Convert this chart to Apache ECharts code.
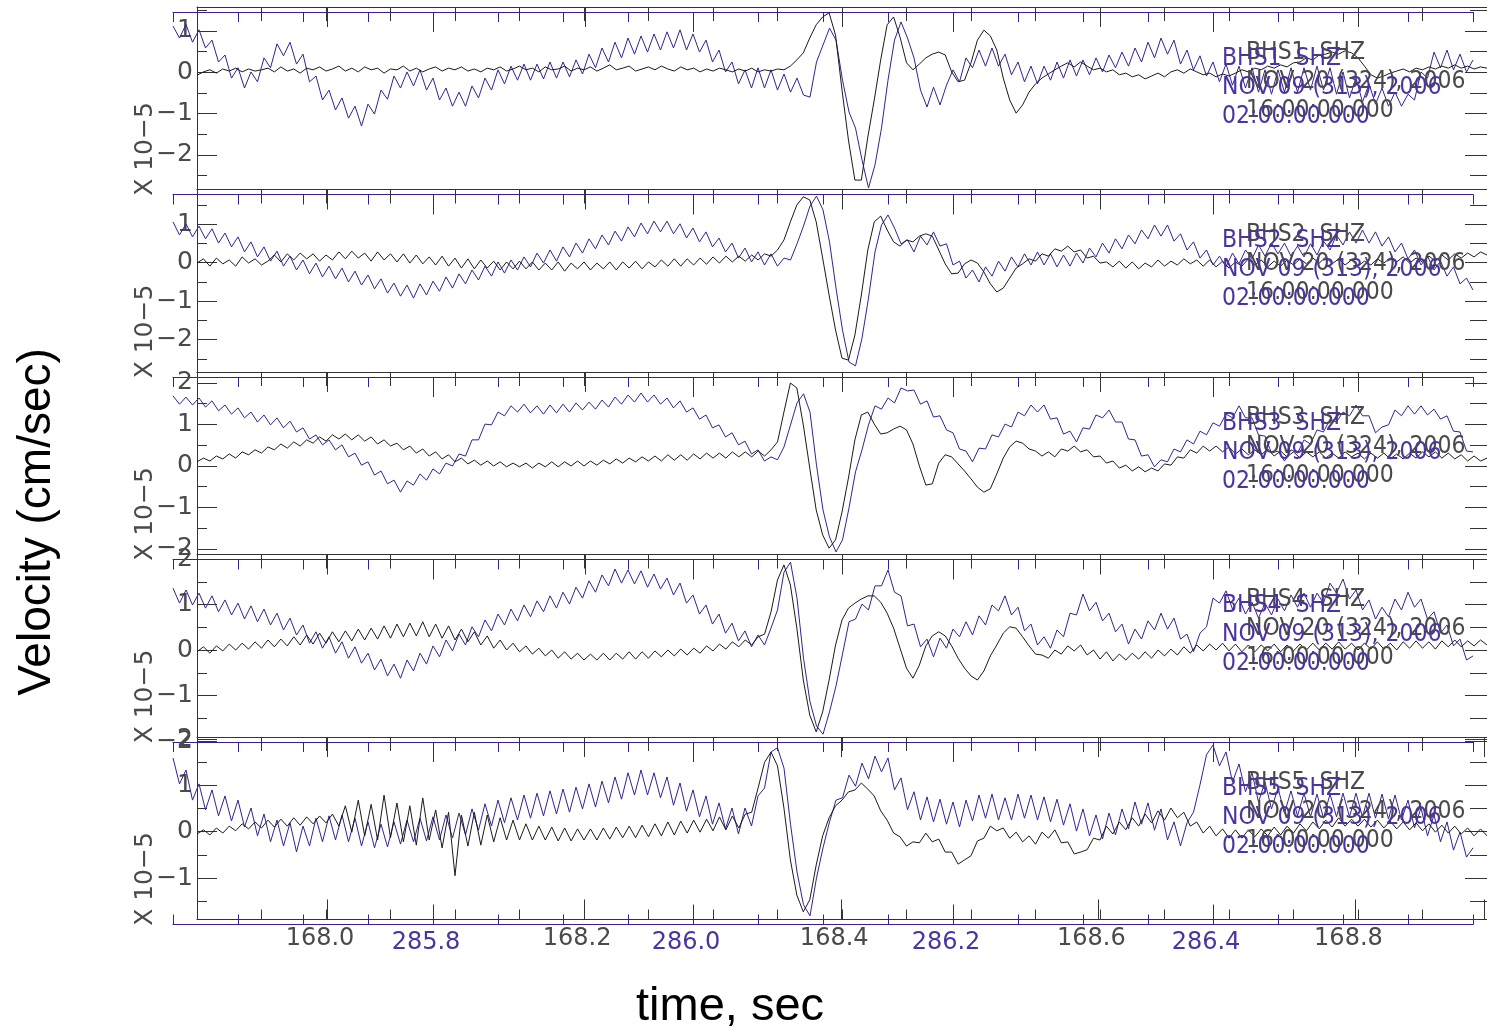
<!DOCTYPE html>
<html><head><meta charset="utf-8">
<script src="https://cdn.jsdelivr.net/npm/echarts@6/dist/echarts.min.js"></script>
<style>html,body{margin:0;padding:0;background:#fff}#c{width:1487px;height:1031px}</style>
</head><body><div id="c"></div>
<script>
// ---- time bases (seconds) ----
const blackStartTime = 167.9, blackEndTime = 168.9;
const purpleStartTime = 285.6, purpleEndTime = 286.6;
const sampleStep = 0.005;

// ---- traces (units of 1e-5 cm/sec) ----
const blackP1 = [-0.07,0.01,0.06,-0.02,0.08,0.03,0.1,0.01,0.08,0.03,0.06,
0.1,0.01,0.13,0.03,0.08,-0.02,0.1,0.06,0.13,0.03,
0.08,0.15,0.03,0.1,0.01,0.13,0.06,0.1,-0.02,0.08,
0.06,0.15,0.03,0.1,0.01,0.08,0.13,0.03,0.1,0.06,
0.13,0.03,0.08,0.01,0.1,0.06,0.13,0.03,0.08,0.15,
0.06,0.1,0.01,0.13,0.06,0.08,0.15,0.03,0.1,0.06,
0.13,0.03,0.1,0.18,0.06,0.1,0.15,0.03,0.08,0.13,
0.06,0.15,0.08,0.03,0.13,0.06,0.1,0.01,0.08,0.03,
0.1,0.06,0.01,0.08,0.03,0.1,0.01,0.06,0.03,0.08,
0.06,0.15,0.3,0.47,0.83,1.15,1.34,1.44,0.9,-0.43,
-1.64,-2.61,-2.61,-1.57,-0.67,0.3,1.15,1.34,0.85,0.23,
0.06,0.2,0.35,0.44,0.49,0.42,0.01,-0.23,-0.19,0.23,
0.78,1.02,0.88,0.54,-0.14,-0.67,-0.99,-0.79,-0.48,-0.28,
-0.14,-0.04,0.06,0.15,0.23,0.13,0.25,0.15,0.06,0.1,
0.01,0.06,-0.06,-0.02,-0.11,-0.06,-0.16,-0.09,-0.02,-0.11,
0.01,0.06,-0.02,0.08,0.01,-0.06,-0.02,-0.11,-0.04,-0.09,
-0.02,0.06,0.01,0.1,0.06,0.15,0.1,0.18,0.13,0.23,
0.25,0.35,0.3,0.42,0.44,0.49,0.44,0.52,0.47,0.35,
0.15,-0.06,-0.14,-0.09,-0.02,0.03,0.08,0.01,0.1,0.06,
0.13,0.08,0.15,0.1,0.18,0.1,0.15,0.08,0.13,0.1];
const purpleP1 = [1.24,0.95,1.28,0.85,1.15,0.71,0.9,0.37,0.54,-0.02,
0.23,-0.26,0.13,-0.11,0.47,0.23,0.81,0.52,0.85,0.32,
0.56,-0.11,0.03,-0.55,-0.31,-0.79,-0.5,-0.99,-0.7,-1.18,
-0.65,-0.89,-0.31,-0.53,0.03,-0.26,0.13,-0.21,0.18,-0.31,
-0.02,-0.55,-0.26,-0.7,-0.36,-0.7,-0.21,-0.5,-0.02,-0.31,
0.18,-0.16,0.27,-0.07,0.32,-0.07,0.32,-0.04,0.37,-0.02,
0.37,0.01,0.42,0.08,0.56,0.23,0.71,0.37,0.85,0.47,
0.95,0.56,1.0,0.61,1.05,0.66,1.1,0.71,1.15,0.66,
1.05,0.61,0.9,0.37,0.66,0.13,0.37,-0.16,0.18,-0.26,
0.23,-0.26,0.18,-0.31,0.08,-0.36,-0.02,-0.43,-0.48,0.37,
0.78,1.19,0.9,-0.07,-0.84,-1.23,-2.0,-2.68,-2.12,-1.23,
-0.07,0.9,1.34,0.95,0.47,-0.31,-0.72,-0.24,-0.67,-0.19,
0.18,-0.11,0.47,0.23,0.66,0.27,0.71,0.27,0.56,0.06,
0.37,-0.11,0.27,-0.16,0.27,-0.07,0.37,-0.02,0.42,0.03,
0.42,0.06,0.47,0.13,0.54,0.23,0.61,0.27,0.71,0.37,
0.85,0.47,0.95,0.56,0.9,0.32,0.66,0.18,0.52,0.03,
0.37,-0.11,0.32,-0.19,0.27,-0.26,0.23,-0.36,0.18,-0.41,
0.18,-0.36,0.23,-0.36,0.23,-0.31,0.27,-0.31,0.23,-0.41,
0.13,-0.5,-0.02,-0.6,-0.16,-0.65,-0.26,-0.7,-0.36,-0.7,
-0.41,-0.55,0.13,-0.02,0.61,0.23,0.66,0.18,0.56,0.13,
0.42];
const blackP2 = [-0.01,0.1,-0.09,0.12,-0.03,0.07,-0.09,0.15,-0.01,0.1,-0.06,
0.04,0.2,0.02,0.23,0.07,0.25,0.1,0.23,0.04,0.2,
0.07,0.28,0.1,0.3,0.12,0.25,0.04,0.28,0.07,0.23,
0.02,0.23,-0.01,0.2,-0.03,0.15,-0.06,0.17,-0.09,0.12,
-0.14,0.1,-0.16,0.07,-0.14,0.04,-0.19,0.02,-0.16,0.04,
-0.16,0.02,-0.19,-0.01,-0.19,0.02,-0.22,-0.01,-0.16,0.02,
-0.19,-0.01,-0.16,0.02,-0.19,0.02,-0.14,0.04,-0.16,0.02,
-0.11,0.07,-0.09,0.1,-0.09,0.1,-0.06,0.12,-0.04,0.15,
-0.01,0.17,0.02,0.17,0.04,0.2,0.07,0.23,0.17,
0.33,0.59,1.06,1.5,1.71,1.63,1.06,0.12,-0.84,-1.75,
-2.48,-2.53,-1.88,-0.84,0.33,1.06,1.21,0.85,0.54,0.43,
0.59,0.54,0.69,0.75,0.69,0.33,-0.03,-0.29,-0.27,-0.03,
0.07,-0.01,-0.24,-0.55,-0.76,-0.66,-0.4,-0.14,-0.03,0.1,
0.04,0.23,0.17,0.36,0.3,0.43,0.28,0.33,0.12,0.17,-0.01,
0.02,-0.11,0.04,-0.14,0.02,-0.16,-0.01,-0.11,0.07,-0.09,0.04,-0.06,0.1,-0.03,0.07,
-0.09,0.07,-0.11,0.04,-0.14,0.02,-0.09,0.1,-0.06,0.07,-0.11,0.04,-0.09,0.07,-0.06,
0.1,-0.03,0.12,-0.01,0.15,-0.03,0.1,-0.06,0.07,-0.09,0.04,-0.06,0.1,-0.01,0.12,
0.02,0.15,-0.01,0.12,0.02,0.17,0.04,0.2,0.07,0.23,0.12,0.25,0.15,0.28,0.2];
const purpleP2 = [1.19,0.85,1.14,0.8,1.08,0.75,1.01,0.64,0.9,0.54,
0.8,0.41,0.67,0.28,0.54,0.17,0.43,0.04,0.3,-0.06,
0.2,-0.16,0.12,-0.24,0.04,-0.29,-0.01,-0.37,-0.09,-0.45,
-0.19,-0.55,-0.29,-0.66,-0.4,-0.74,-0.45,-0.79,-0.42,-0.71,
-0.35,-0.61,-0.24,-0.53,-0.16,-0.42,-0.06,-0.32,0.04,-0.22,
0.15,-0.14,0.2,-0.06,0.28,0.02,0.38,0.12,0.46,0.17,
0.54,0.28,0.64,0.38,0.75,0.49,0.85,0.59,0.95,0.69,
1.06,0.8,1.16,0.88,1.21,0.93,1.21,0.88,1.14,0.77,
1.03,0.67,0.93,0.54,0.77,0.41,0.64,0.25,0.51,0.15,
0.41,0.07,0.36,0.04,0.25,0.2,0.62,1.08,1.6,1.86,
1.5,0.67,-0.53,-1.62,-2.45,-2.55,-1.83,-0.79,0.41,1.11,
1.37,1.03,0.62,0.72,0.41,0.82,0.59,0.93,0.56,0.62,
0.07,0.17,-0.27,-0.06,-0.37,0.02,-0.22,0.17,-0.09,0.28,
0.02,0.36,0.07,0.41,0.07,0.36,0.02,0.33,0.04,0.38,
0.12,0.51,0.28,0.64,0.38,0.75,0.49,0.85,0.62,0.98,
0.75,1.11,0.82,1.11,0.69,0.88,0.46,0.67,0.25,0.46,
0.07,0.3,0.02,0.38,0.1,0.46,0.23,0.59,0.3,0.64,
0.36,0.64,0.3,0.56,0.28,0.62,0.33,0.69,0.46,0.85,
0.59,0.93,0.64,0.98,0.64,0.93,0.56,0.8,0.41,0.64,
0.23,0.46,0.07,0.3,-0.06,0.17,-0.22,0.02,-0.42,-0.27,
-0.58];
const blackP3 = [0.1,0.19,0.12,0.24,0.17,0.29,0.19,0.34,0.27,0.39,
0.31,0.46,0.39,0.53,0.43,0.58,0.48,0.63,0.55,0.7,
0.6,0.75,0.65,0.77,0.63,0.75,0.6,0.7,0.53,0.63,
0.48,0.55,0.39,0.48,0.31,0.41,0.24,0.34,0.17,0.27,
0.1,0.19,0.05,0.14,0.02,0.12,0,0.1,-0.02,0.07,
-0.02,0.07,-0.05,0.07,-0.02,0.1,-0.02,0.1,0,0.12,
0,0.12,0.02,0.14,0.05,0.17,0.07,0.19,0.1,0.22,
0.12,0.24,0.12,0.27,0.14,0.27,0.14,0.29,0.17,0.31,
0.19,0.31,0.19,0.34,0.22,0.34,0.22,0.36,0.24,0.39,
0.58,1.3,2.0,1.88,0.99,-0.05,-1.06,-1.66,-1.98,-1.78,
-1.11,-0.29,0.63,1.23,1.3,1.01,0.77,0.8,0.89,0.96,
0.87,0.53,0,-0.46,-0.43,0.07,0.27,0.22,0.05,-0.12,
-0.31,-0.51,-0.63,-0.55,-0.19,0.19,0.46,0.6,0.55,0.41,
0.36,0.24,0.34,0.22,0.41,0.36,0.48,0.34,0.39,0.22,
0.24,0.07,0.12,-0.05,0.02,-0.12,-0.02,-0.14,-0.05,-0.12,
0.05,0.02,0.22,0.19,0.39,0.31,0.48,0.36,0.48,0.34,
0.46,0.29,0.41,0.27,0.39,0.27,0.41,0.24,0.36,0.22,
0.34,0.19,0.34,0.22,0.34,0.19,0.31,0.19,0.34,0.22,
0.31,0.17,0.31,0.19,0.31,0.17,0.29,0.17,0.31,0.19,
0.34,0.22,0.34,0.19,0.31,0.17,0.27,0.12,0.24,0.12,
0.19];
const purpleP3 = [1.81,1.61,1.78,1.59,1.76,1.54,1.69,1.45,1.59,1.37,
1.52,1.28,1.42,1.18,1.35,1.11,1.28,1.04,1.2,0.94,
1.04,0.77,0.87,0.63,0.75,0.51,0.63,0.34,0.43,0.14,
0.22,-0.1,0,-0.31,-0.22,-0.51,-0.24,-0.34,-0.07,-0.22,
0.05,-0.07,0.19,0.12,0.41,0.36,0.75,0.75,1.13,1.11,
1.42,1.33,1.57,1.42,1.61,1.4,1.57,1.37,1.59,1.4,
1.61,1.42,1.64,1.47,1.66,1.49,1.71,1.54,1.78,1.61,
1.83,1.66,1.88,1.66,1.83,1.61,1.76,1.52,1.69,1.42,
1.52,1.25,1.35,1.04,1.11,0.82,0.92,0.63,0.72,0.41,
0.51,0.24,0.34,0.27,0.58,1.11,1.64,1.86,1.42,0.14,
-0.94,-1.59,-1.95,-1.66,-0.89,-0.02,0.51,1.11,1.57,1.49,
1.76,1.64,2.0,1.93,1.95,1.61,1.69,1.3,1.33,0.99,
0.92,0.53,0.48,0.22,0.55,0.53,0.87,0.82,1.13,1.06,
1.42,1.33,1.59,1.42,1.59,1.25,1.28,0.89,0.96,0.7,
1.04,1.01,1.35,1.28,1.47,1.18,1.18,0.77,0.75,0.36,
0.39,0.1,0.27,0.22,0.53,0.46,0.75,0.65,0.96,0.87,
1.16,1.08,1.37,1.28,1.57,1.28,1.28,0.87,0.84,0.43,
0.48,0.24,0.51,0.43,0.75,0.65,0.99,0.94,1.25,1.18,
1.42,1.33,1.59,1.33,1.33,0.92,1.06,1.11,1.47,1.33,
1.57,1.37,1.57,1.35,1.49,1.25,1.33,0.96,0.94,0.48,
0.46];
const blackP4 = [-0.04,0.07,-0.07,0.09,-0.02,0.13,0,0.15,0.02,0.18,
0.04,0.22,0.07,0.24,0.09,0.29,0.11,0.33,0.13,0.37,
0.15,0.4,0.18,0.42,0.2,0.46,0.22,0.48,0.24,0.53,
0.26,0.57,0.29,0.59,0.31,0.62,0.29,0.57,0.26,0.53,
0.22,0.46,0.18,0.4,0.11,0.31,0.04,0.22,0,0.15,
-0.04,0.09,-0.09,0.04,-0.13,0,-0.18,-0.04,-0.2,-0.07,
-0.22,-0.09,-0.22,-0.07,-0.22,-0.07,-0.2,-0.04,-0.2,-0.04,
-0.18,-0.02,-0.15,0,-0.13,0.02,-0.11,0.04,-0.07,0.09,
-0.02,0.13,0.02,0.18,0.07,0.22,0.11,0.29,0.35,0.84,
1.54,1.87,1.43,0.48,-0.66,-1.43,-1.8,-1.36,-0.66,0.11,
0.66,0.92,1.03,1.12,1.19,1.19,1.05,0.81,0.48,0.04,
-0.4,-0.62,-0.33,0.09,0.31,0.4,0.31,0.09,-0.18,-0.4,
-0.57,-0.66,-0.46,-0.13,0.11,0.37,0.51,0.48,0.29,0.09,
-0.09,-0.11,-0.18,0,-0.09,0.09,-0.02,0.11,-0.11,0,
-0.2,-0.04,-0.24,-0.09,-0.22,-0.07,-0.2,-0.04,-0.18,0,
-0.13,0.02,-0.11,0.07,-0.07,0.11,-0.02,0.13,0,0.15,
-0.02,0.13,-0.04,0.11,-0.04,0.11,-0.02,0.13,-0.04,0.11,
-0.02,0.13,0,0.15,0,0.15,0.02,0.18,0.02,0.15,
0,0.15,0.02,0.18,0.02,0.15,0,0.18,0.04,0.2,
0.04,0.18,0.02,0.2,0.07,0.22,0.07,0.2,0.09,0.22,
0.11];
const purpleP4 = [1.47,1.14,1.43,1.1,1.36,1.03,1.3,0.95,1.21,0.88,
1.14,0.79,1.08,0.73,1.01,0.66,0.92,0.55,0.81,0.44,
0.66,0.26,0.51,0.15,0.4,0.04,0.29,-0.07,0.18,-0.18,
0.04,-0.33,-0.09,-0.46,-0.2,-0.51,-0.11,-0.35,0.04,-0.2,
0.2,-0.04,0.33,0.09,0.46,0.22,0.62,0.4,0.77,0.53,
0.9,0.66,1.01,0.75,1.1,0.84,1.19,0.95,1.3,1.03,
1.38,1.12,1.49,1.25,1.63,1.38,1.76,1.52,1.89,1.58,
1.87,1.56,1.85,1.49,1.78,1.45,1.69,1.32,1.58,1.14,
1.32,0.9,1.1,0.68,0.9,0.48,0.7,0.31,0.53,0.18,
0.44,0.22,0.59,0.99,1.82,2.04,1.25,-0.07,-1.03,-1.56,
-1.74,-1.25,-0.68,0.02,0.73,0.79,1.12,0.99,1.52,1.52,
1.87,1.38,1.3,0.64,0.68,0.18,0.35,-0.04,0.37,0.15,
0.57,0.4,0.73,0.44,0.86,0.66,1.1,0.97,1.3,0.88,
1.05,0.53,0.68,0.22,0.4,0.15,0.55,0.4,0.92,0.88,
1.34,0.97,1.16,0.75,0.92,0.51,0.68,0.24,0.57,0.35,
0.75,0.55,0.92,0.57,0.81,0.35,0.46,0.07,0.48,0.62,
1.25,1.14,1.41,1.01,1.25,0.9,1.16,0.81,1.14,0.88,
1.23,0.97,1.32,1.05,1.36,1.05,1.36,1.14,1.58,1.36,
1.67,1.23,1.43,0.99,1.21,0.79,1.05,0.84,1.23,0.99,
1.38,1.05,1.23,0.79,0.95,0.48,0.66,0.2,0.35,-0.11,
-0.02];
const blackP5 = [-0.05,0.04,-0.07,0.08,-0.03,0.12,0.02,0.17,0.06,0.21,
0.08,0.25,0.1,0.27,0.12,0.3,0.14,0.32,0.17,0.34,
0.19,0.38,0.12,0.56,-0.01,0.68,-0.09,0.59,-0.18,0.79,
-0.13,0.62,-0.22,0.56,-0.29,0.73,-0.18,0.47,-0.35,0.42,
-0.95,0.36,-0.31,0.42,-0.29,0.36,-0.22,0.3,-0.18,0.25,
-0.18,0.17,-0.18,0.12,-0.18,0.1,-0.2,0.08,-0.2,0.06,
-0.18,0.06,-0.18,0.08,-0.16,0.1,-0.13,0.12,-0.13,0.14,
-0.11,0.17,-0.09,0.21,-0.07,0.23,-0.03,0.25,-0.01,0.27,
0.02,0.32,0.04,0.34,0.08,0.38,0.42,0.95,1.5,1.72,
1.42,0.51,-0.61,-1.37,-1.73,-1.47,-0.72,-0.09,0.3,0.56,
0.68,0.86,0.9,1.05,0.92,0.77,0.45,0.25,-0.03,-0.11,
-0.31,-0.22,-0.24,-0.03,-0.22,-0.16,-0.44,-0.44,-0.7,-0.61,
-0.52,-0.2,-0.14,0.12,0.02,0.08,-0.14,-0.01,-0.22,-0.09,
-0.27,-0.01,-0.14,0.04,-0.24,-0.22,-0.48,-0.44,-0.39,-0.14,
-0.18,0.12,-0.05,0.21,0.04,0.3,0.12,0.38,0.19,0.45,
0.25,0.51,0.3,0.42,0.12,0.21,-0.03,0.12,-0.09,0.06,
-0.14,0.04,-0.14,0.04,-0.11,0.06,-0.09,0.1,-0.07,0.12,
-0.03,0.17,0.02,0.21,0.06,0.25,0.1,0.3,0.12,0.27,
0.12,0.27,0.1,0.25,0.08,0.23,0.06,0.21,0.04,0.19,
0.02,0.17,-0.01,0.14,-0.03,0.12,-0.05,0.08,-0.09,0.06,
-0.09];
const purpleP5 = [1.7,1.14,1.44,0.79,1.14,0.58,1.01,0.45,0.88,0.34,
0.79,0.21,0.62,0.02,0.49,-0.11,0.36,-0.2,0.3,-0.33,
0.23,-0.2,0.4,-0.11,0.45,-0.07,0.47,-0.11,0.4,-0.2,
0.32,-0.24,0.27,-0.22,0.32,-0.16,0.36,-0.11,0.4,-0.09,
0.43,-0.07,0.47,-0.03,0.51,0.04,0.6,0.14,0.71,0.23,
0.79,0.3,0.84,0.36,0.9,0.4,0.94,0.45,0.99,0.49,
1.03,0.53,1.07,0.6,1.14,0.64,1.2,0.73,1.29,0.81,
1.38,0.9,1.44,0.9,1.38,0.84,1.29,0.68,1.16,0.55,
1.01,0.43,0.88,0.27,0.73,0.17,0.62,0.06,0.62,0.23,
0.88,1.05,1.83,1.92,1.48,0.27,-0.76,-1.47,-1.71,-0.89,
-0.24,0.32,0.79,0.84,1.33,1.09,1.59,1.25,1.74,1.4,
1.7,1.01,1.27,0.58,0.97,0.36,0.86,0.32,0.81,0.27,
0.75,0.21,0.79,0.34,0.9,0.4,0.92,0.36,0.84,0.36,
0.92,0.4,0.9,0.36,0.86,0.32,0.81,0.25,0.71,0.12,
0.6,0.02,0.47,-0.05,0.51,0.04,0.6,0.17,0.75,0.27,
0.73,0.14,0.6,-0.07,0.32,-0.2,0.3,0.53,1.12,1.77,
1.98,1.53,1.83,1.18,1.57,0.97,1.38,0.75,1.18,0.6,
1.05,0.51,0.99,0.45,0.94,0.43,0.92,0.4,0.92,0.43,
0.94,0.43,0.94,0.43,0.94,0.4,0.92,0.38,0.9,0.36,
0.79,0.19,0.62,0.02,0.47,-0.11,0.32,-0.29,0.1,-0.44,
-0.24];

// ---- per-panel axis ranges and labels ----
const yMin = [-2.838, -2.839, -2.133, -1.912, -1.896];
const yMax = [1.581, 1.901, 2.265, 2.099, 2.045];
const majorLo = [-2, -2, -2, -2, -1];
const majorHi = [1, 1, 2, 2, 2];
const stationNames = ['BHS1', 'BHS2', 'BHS3', 'BHS4', 'BHS5'];
const componentName = 'SHZ';
const blackDate = 'NOV 20 (324), 2006', blackClock = '16:00:00.000';
const purpleDate = 'NOV 09 (313), 2006', purpleClock = '02:00:00.000';
const scaleLabel = 'X 10\u22125';
const yTitle = 'Velocity (cm/sec)', xTitle = 'time, sec';

const blackSets = [blackP1, blackP2, blackP3, blackP4, blackP5];
const purpleSets = [purpleP1, purpleP2, purpleP3, purpleP4, purpleP5];

// ---- styling / layout ----
const BK = '#1a1a1a', BKAX = '#333333', PU = '#3b1f8e', BKTXT = '#4a4a4a', PUTXT = '#4d33a0';
const NFONT = "'DejaVu Sans',sans-serif";
const TFONT = "'Liberation Sans',Arial,sans-serif";
const H = 182.5, TOP0 = 7, BL = 197, PL = 173, W = 1300, PDY = 5;

const grid = [], xAxis = [], yAxis = [], series = [], graphic = [];
function addGrid(l, t, w, h) { grid.push({left: l, top: t, width: w, height: h}); return grid.length - 1; }
function xAx(gi, o) { xAxis.push(Object.assign({gridIndex: gi, type: 'value', splitLine: {show: false}, axisLabel: {show: false}}, o)); return xAxis.length - 1; }
function yAx(gi, o) { yAxis.push(Object.assign({gridIndex: gi, type: 'value', splitLine: {show: false}, axisLabel: {show: false}}, o)); return yAxis.length - 1; }
const hidden = gi => ({gridIndex: gi, type: 'value', min: 0, max: 1, show: false});
const tick = (len, color) => ({show: true, inside: true, length: len, lineStyle: {color: color, width: 1}});
const line = (color) => ({show: true, onZero: false, lineStyle: {color: color, width: 1}});
const noLine = {show: false, onZero: false};
const isFifth = v => Math.abs(Math.round(v * 5) - v * 5) < 1e-6;

for (let p = 0; p < 5; p++) {
  const top = TOP0 + H * p, last = p === 4;
  const span = yMax[p] - yMin[p];
  const yPix = v => top + (yMax[p] - v) / span * H;

  // black frame grid with data
  const gB = addGrid(BL, top, W, H);
  const xB = xAx(gB, {min: blackStartTime, max: blackEndTime, interval: 0.05, position: 'top', axisLine: line(BKAX), axisTick: tick(14, BKAX)});
  if (last) xAx(gB, {min: blackStartTime, max: blackEndTime, interval: 0.05, position: 'bottom', axisLine: line(BKAX), axisTick: tick(10, BKAX)});
  const yB = yAx(gB, {min: yMin[p], max: yMax[p], axisLine: line(BKAX), axisTick: {show: false}});

  // black major ticks (0.2 s)
  const gBM = addGrid(BL + 0.1 * W, top, 0.9 * W, H);
  xAx(gBM, {min: 168.0, max: blackEndTime, interval: 0.2, position: 'top', axisLine: noLine, axisTick: tick(20, BKAX)});
  if (last) xAx(gBM, {min: 168.0, max: blackEndTime, interval: 0.2, position: 'bottom', axisLine: noLine, axisTick: tick(20, BKAX),
    axisLabel: {show: true, margin: 7, padding: [0, 14, 0, 0], color: BKTXT, fontSize: 24, fontFamily: NFONT, formatter: v => isFifth(v) ? v.toFixed(1) : ''}});
  yAx(gBM, hidden(gBM));

  // purple grid with data (offset)
  const gP = addGrid(PL, top + PDY, W, H);
  const xP = xAx(gP, {min: purpleStartTime, max: purpleEndTime, interval: 0.05, position: 'top', axisLine: line(PU), axisTick: tick(10, PU)});
  if (last) xAx(gP, {min: purpleStartTime, max: purpleEndTime, interval: 0.05, position: 'bottom', axisLine: line(PU), axisTick: tick(10, PU)});
  const yP = yAx(gP, {min: yMin[p], max: yMax[p], show: false});

  // purple major ticks
  const gPM = addGrid(PL + 0.2 * W, top + PDY, 0.6 * W, H);
  xAx(gPM, {min: 285.8, max: 286.4, interval: 0.2, position: 'top', axisLine: noLine, axisTick: tick(20, PU)});
  if (last) xAx(gPM, {min: 285.8, max: 286.4, interval: 0.2, position: 'bottom', axisLine: noLine, axisTick: tick(20, PU),
    axisLabel: {show: true, margin: 6, padding: [0, 14, 0, 0], color: PUTXT, fontSize: 24, fontFamily: NFONT, formatter: v => v.toFixed(1)}});
  yAx(gPM, hidden(gPM));

  // y major ticks + labels
  const lo = majorLo[p], hi = majorHi[p];
  const gYM = addGrid(BL, yPix(hi), W, yPix(lo) - yPix(hi));
  xAx(gYM, hidden(gYM));
  yAx(gYM, {min: lo, max: hi, interval: 1, position: 'left', axisLine: noLine, axisTick: tick(20, BKAX),
    axisLabel: {show: true, margin: 4, color: BKTXT, fontSize: 25, fontFamily: NFONT, formatter: v => (v < 0 ? '\u2212' : '') + Math.abs(v)}});
  yAx(gYM, {min: lo, max: hi, interval: 1, position: 'right', axisLine: noLine, axisTick: tick(22, BKAX)});

  // y minor ticks (0.5)
  const mlo = Math.ceil(yMin[p] * 2) / 2, mhi = Math.floor(yMax[p] * 2) / 2;
  const gYm = addGrid(BL, yPix(mhi), W, yPix(mlo) - yPix(mhi));
  xAx(gYm, hidden(gYm));
  yAx(gYm, {min: mlo, max: mhi, interval: 0.5, position: 'left', axisLine: noLine, axisTick: tick(10, BKAX)});
  yAx(gYm, {min: mlo, max: mhi, interval: 0.5, position: 'right', axisLine: noLine, axisTick: tick(17, BKAX)});

  series.push({type: 'line', xAxisIndex: xP, yAxisIndex: yP, showSymbol: false, symbol: 'none', silent: true, z: 2,
    lineStyle: {color: PU, width: 1}, data: purpleSets[p].map((v, i) => [purpleStartTime + i * sampleStep, v])});
  series.push({type: 'line', xAxisIndex: xB, yAxisIndex: yB, showSymbol: false, symbol: 'none', silent: true, z: 3,
    lineStyle: {color: BK, width: 1}, data: blackSets[p].map((v, i) => [blackStartTime + i * sampleStep, v])});

  // station / date text
  const txt = (x, y, s, color) => ({type: 'text', x: x, y: y, scaleX: 0.88, silent: true, z: 50,
    style: {text: s, fill: color, fontSize: 25, fontFamily: NFONT, align: 'left', verticalAlign: 'middle', textAlign: 'left', textVerticalAlign: 'middle'}});
  graphic.push(txt(1246, top + 45, stationNames[p] + '  ' + componentName, BKTXT));
  graphic.push(txt(1246, top + 74, blackDate, BKTXT));
  graphic.push(txt(1246, top + 103, blackClock, BKTXT));
  graphic.push(txt(1222, top + 51, stationNames[p] + '  ' + componentName, PUTXT));
  graphic.push(txt(1222, top + 80, purpleDate, PUTXT));
  graphic.push(txt(1222, top + 109, purpleClock, PUTXT));
  graphic.push({type: 'text', x: 145, y: top + 142, rotation: Math.PI / 2, silent: true, z: 50,
    style: {text: scaleLabel, fill: BKTXT, fontSize: 25, fontFamily: NFONT, align: 'center', verticalAlign: 'middle', textAlign: 'center', textVerticalAlign: 'middle'}});
}

graphic.push({type: 'text', x: 37, y: 522, rotation: Math.PI / 2, silent: true,
  style: {text: yTitle, fill: '#000', fontSize: 46, fontFamily: TFONT, align: 'center', verticalAlign: 'middle', textAlign: 'center', textVerticalAlign: 'middle'}});
graphic.push({type: 'text', x: 730, y: 1007, silent: true,
  style: {text: xTitle, fill: '#000', fontSize: 47, fontFamily: TFONT, align: 'center', verticalAlign: 'middle', textAlign: 'center', textVerticalAlign: 'middle'}});

const chart = echarts.init(document.getElementById('c'), null, {renderer: 'canvas'});
chart.setOption({animation: false, backgroundColor: '#fff', grid, xAxis, yAxis, series, graphic});
</script></body></html>
